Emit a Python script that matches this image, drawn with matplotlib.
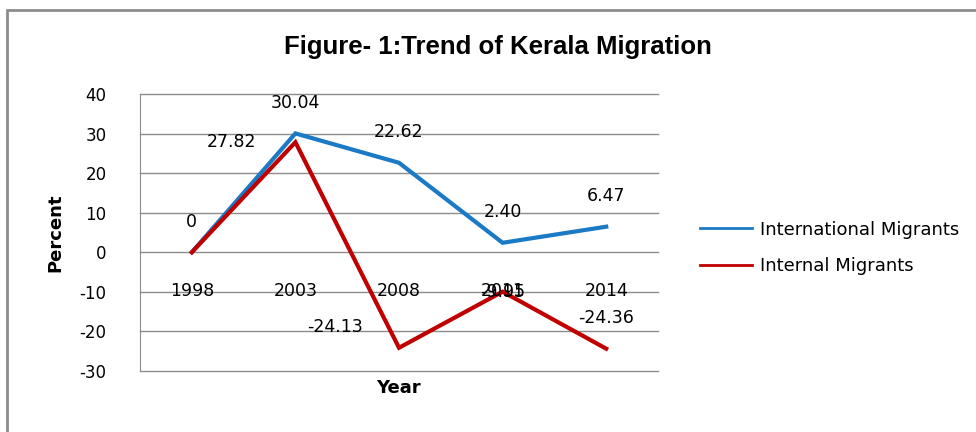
import matplotlib.pyplot as plt
from matplotlib.patches import Rectangle

years = ['1998', '2003', '2008', '2011', '2014']
international = [0, 30.04, 22.62, 2.40, 6.47]
internal = [0, 27.82, -24.13, -9.95, -24.36]
intl_labels = ['0', '30.04', '22.62', '2.40', '6.47']
intn_labels = ['', '27.82', '-24.13', '-9.95', '-24.36']

plt.rcParams['font.family'] = ['DejaVu Sans']
plt.rcParams['axes.unicode_minus'] = False

fig = plt.figure(figsize=(9.76, 4.32), dpi=100)
# outer chart frame (only top / left edges visible in the crop)
fig.patches.append(Rectangle((7/976, -0.1), 1.2, 1 - 10/432 + 0.1, transform=fig.transFigure,
                             fill=False, edgecolor='#8c8c8c', linewidth=2))

ax = fig.add_axes([140/976, 1 - 371/432, 518/976, 277/432])
x = list(range(len(years)))
l1, = ax.plot(x, international, color='#1a7ac6', linewidth=3, solid_joinstyle='miter')
l2, = ax.plot(x, internal, color='#c00000', linewidth=3, solid_joinstyle='miter')

ax.set_xlim(-0.5, len(years) - 0.5)
ax.set_ylim(-30, 40)
ax.set_yticks(range(-30, 41, 10))
ax.tick_params(axis='y', length=0, labelsize=12, pad=24)
ax.set_xticks([])
ax.grid(axis='y', color='#8c8c8c', linewidth=1)
for gl in ax.get_ygridlines():
    gl.set_clip_on(False)
ax.set_axisbelow(True)
for s in ['top', 'right', 'bottom']:
    ax.spines[s].set_visible(False)
ax.spines['left'].set_color('#8c8c8c')

# category labels hang below the zero line
for i, yr in enumerate(years):
    ax.annotate(yr, (i, 0), xytext=(0, -28), textcoords='offset points',
                ha='center', va='center', fontsize=12.5)

# data labels
intl_off = [(0, 22), (0, 22), (0, 22), (0, 22), (0, 22)]
intn_off = [(0, 0), (-46, 0), (-46, 15), (0, 0), (0, 22)]
for i, v in enumerate(international):
    ax.annotate(intl_labels[i], (i, v), xytext=intl_off[i], textcoords='offset points',
                ha='center', va='center', fontsize=12.5)
for i, v in enumerate(internal):
    if intn_labels[i]:
        ax.annotate(intn_labels[i], (i, v), xytext=intn_off[i], textcoords='offset points',
                    ha='center', va='center', fontsize=12.5)

fig.text(498/976, 1 - 47/432, 'Figure- 1:Trend of Kerala Migration', ha='center', va='center',
         fontsize=18.5, fontweight='bold', family='Liberation Sans')
fig.text(55/976, 1 - 233/432, 'Percent', rotation=90, ha='center', va='center',
         fontsize=13, fontweight='bold')
fig.text(398/976, 1 - 388/432, 'Year', ha='center', va='center', fontsize=13, fontweight='bold')

fig.legend([l1, l2], ['International Migrants', 'Internal Migrants'],
           loc='center left', bbox_to_anchor=(691/976, 1 - 248/432), frameon=False,
           fontsize=13, handlelength=2.9, handletextpad=0.42, labelspacing=1.05,
           borderpad=0)
for h in fig.legends[0].get_lines():
    h.set_linewidth(2)

fig.savefig('out.png', dpi=100)
